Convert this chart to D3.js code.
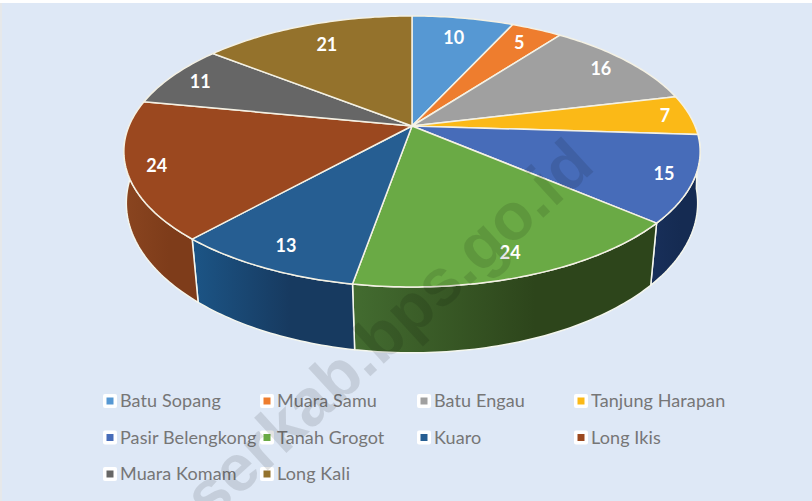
<!DOCTYPE html>
<html>
<head>
<meta charset="utf-8">
<script src="https://cdn.jsdelivr.net/npm/d3@7"></script>
<style>
html, body { margin: 0; padding: 0; background: #fff; overflow: hidden; }
text { font-family: Lato, "Open Sans", sans-serif; }
</style>
</head>
<body>
<div id="chart"></div>
<script>
// data
const districts = ["Batu Sopang", "Muara Samu", "Batu Engau", "Tanjung Harapan", "Pasir Belengkong",
    "Tanah Grogot", "Kuaro", "Long Ikis", "Muara Komam", "Long Kali"];
const counts = [10, 5, 16, 7, 15, 24, 13, 24, 11, 21];

// colours of each slice: top face, wall gradient left and right
const faceColors = ["#5698d3", "#ee7d2e", "#a0a0a0", "#fbb917", "#476cb9", "#6aaa45", "#265e92", "#9b481f", "#666666", "#94722c"];
const wallLeft = ["#4a7fb0", "#c0652a", "#868686", "#c79a00", "#182f5a", "#436c30", "#1c5586", "#8a4520", "#555555", "#7a5c00"];
const wallRight = ["#345a80", "#8a481e", "#5f5f5f", "#8f6e00", "#152b52", "#2d451b", "#173a60", "#7e3c1a", "#444444", "#5f4800"];
// how far out along the slice each label sits
const labelRadius = [0.79, 0.84, 0.87, 0.91, 0.9, 0.87, 0.87, 0.9, 0.88, 0.78];

const width = 812, height = 501;
const svg = d3.select("#chart").append("svg")
    .attr("width", width)
    .attr("height", height);

svg.append("rect")
    .attr("x", 0).attr("y", 3)
    .attr("width", 2).attr("height", height - 3)
    .attr("fill", "#e6e8ea");
svg.append("rect")
    .attr("x", 2).attr("y", 3)
    .attr("width", width - 2).attr("height", height - 3)
    .attr("fill", "#dee8f6");

const defs = svg.append("defs");

// perspective disc: the far side is squeezed, so the hub is not the ellipse centre
const topDisc = {cx: 412, cy: 126, a: 283, b: 130.7, k: 0.188};
const bottomDisc = {cx: 412, cy: 179, a: 282, b: 146, k: 0.16};

function project(disc, theta, r) {
    const s = Math.sin(theta) * r, c = Math.cos(theta) * r;
    const w = 1 + disc.k * c;
    return [disc.cx + disc.a * s / w, disc.cy - disc.b * c / w];
}

const pie = d3.pie().sort(null).value(d => d);
const slices = pie(counts);
const line = d3.line();
const step = Math.PI / 180;

function arcPoints(disc, a0, a1) {
    const n = Math.max(2, Math.ceil((a1 - a0) / step));
    return d3.range(n + 1).map(i => project(disc, a0 + (a1 - a0) * i / n, 1));
}

// walls, only the part of the rim facing us
const wallFrom = Math.PI * 0.5, wallTo = Math.PI * 1.5;
slices.forEach(function (d, i) {
    const a0 = Math.max(d.startAngle, wallFrom), a1 = Math.min(d.endAngle, wallTo);
    if (a1 <= a0) return;
    const upper = arcPoints(topDisc, a0, a1);
    const lower = arcPoints(bottomDisc, a0, a1).reverse();
    const xs = upper.concat(lower).map(p => p[0]);
    const grad = defs.append("linearGradient")
        .attr("id", "wall" + i)
        .attr("gradientUnits", "userSpaceOnUse")
        .attr("x1", d3.min(xs)).attr("x2", d3.max(xs))
        .attr("y1", 0).attr("y2", 0);
    grad.append("stop").attr("offset", 0).attr("stop-color", wallLeft[i]);
    grad.append("stop").attr("offset", 0.6).attr("stop-color", wallRight[i]);
    svg.append("path")
        .attr("d", line(upper.concat(lower)) + "Z")
        .attr("fill", `url(#wall${i})`)
        .attr("stroke", "#f4f6ee")
        .attr("stroke-width", 1.5)
        .attr("stroke-linejoin", "round");
});

// top face
slices.forEach(function (d, i) {
    const pts = [[topDisc.cx, topDisc.cy]].concat(arcPoints(topDisc, d.startAngle, d.endAngle));
    svg.append("path")
        .attr("d", line(pts) + "Z")
        .attr("fill", faceColors[i])
        .attr("stroke", "#f4f1e4")
        .attr("stroke-width", 1.5)
        .attr("stroke-linejoin", "round");
});

// value labels
slices.forEach(function (d, i) {
    const p = project(topDisc, (d.startAngle + d.endAngle) / 2, labelRadius[i]);
    svg.append("text")
        .attr("x", p[0]).attr("y", p[1])
        .attr("dy", "0.36em")
        .attr("text-anchor", "middle")
        .attr("fill", "#fff")
        .style("font-size", "18px")
        .style("font-weight", 700)
        .text(d.value);
});

// legend
const legendX = d3.scalePoint().domain(d3.range(4)).range([103, 574]);
const legendY = d3.scalePoint().domain(d3.range(3)).range([401, 474]);
const legend = svg.append("g");
districts.forEach(function (name, i) {
    const x = legendX(i % 4), y = legendY(Math.floor(i / 4));
    legend.append("rect")
        .attr("x", x).attr("y", y - 7)
        .attr("width", 14).attr("height", 14)
        .attr("rx", 2)
        .attr("fill", "#fff");
    legend.append("rect")
        .attr("x", x + 3.5).attr("y", y - 3.5)
        .attr("width", 7).attr("height", 7)
        .attr("fill", faceColors[i]);
    legend.append("text")
        .attr("x", x + 17).attr("y", y)
        .attr("dy", "0.36em")
        .attr("fill", "#767676")
        .style("font-size", "18px")
        .style("letter-spacing", "0.1px")
        .text(name);
});

// watermark over everything
svg.append("text")
    .attr("transform", "translate(210,523) rotate(-42.5)")
    .attr("fill", "#000")
    .attr("fill-opacity", 0.11)
    .style("font-family", "'Liberation Sans', sans-serif")
    .style("font-size", "66px")
    .style("font-weight", 700)
    .text("serkab.bps.go.id");
</script>
</body>
</html>
